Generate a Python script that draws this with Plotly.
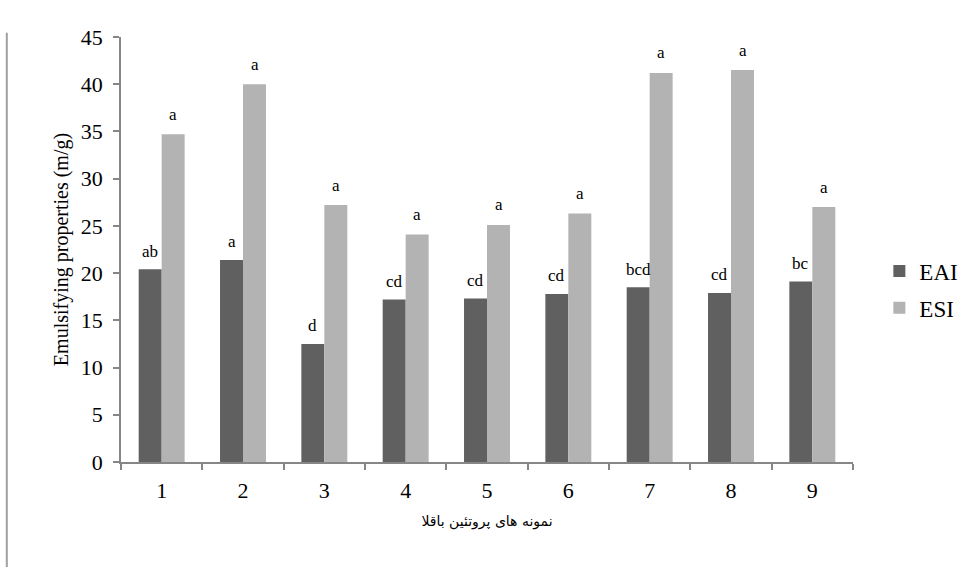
import plotly.graph_objects as go

categories = ["1", "2", "3", "4", "5", "6", "7", "8", "9"]
eai = [20.4, 21.4, 12.5, 17.2, 17.3, 17.8, 18.5, 17.9, 19.1]
esi = [34.7, 40.0, 27.2, 24.1, 25.1, 26.3, 41.2, 41.5, 27.0]
eai_letters = ["ab", "a", "d", "cd", "cd", "cd", "bcd", "cd", "bc"]
esi_letters = ["a", "a", "a", "a", "a", "a", "a", "a", "a"]
y_ticks = [0, 5, 10, 15, 20, 25, 30, 35, 40, 45]

serif = "Liberation Serif, Times New Roman, serif"

fig = go.Figure()
fig.add_trace(go.Bar(x=categories, y=eai, name="EAI", marker=dict(color="#606060", line=dict(width=0)),
                     legendgroup="g1"))
fig.add_trace(go.Bar(x=categories, y=esi, name="ESI", marker=dict(color="#b3b3b3", line=dict(width=0)),
                     legendgroup="g2"))

annotations = []
for i, (v, t) in enumerate(zip(eai, eai_letters)):
    annotations.append(dict(x=i, y=v, xref="x", yref="y", text=t, showarrow=False,
                            xshift=-11.5, yshift=18, yanchor="middle",
                            font=dict(family=serif, size=17, color="#000")))
for i, (v, t) in enumerate(zip(esi, esi_letters)):
    annotations.append(dict(x=i, y=v, xref="x", yref="y", text=t, showarrow=False,
                            xshift=11.5, yshift=20, yanchor="middle",
                            font=dict(family=serif, size=17, color="#000")))

fig.update_layout(
    width=968, height=567,
    margin=dict(l=121, r=115, t=37, b=105, autoexpand=False),
    paper_bgcolor="white", plot_bgcolor="white",
    barmode="group", bargap=0.435, bargroupgap=0,
    font=dict(family=serif, color="#000"),
    showlegend=True,
    legend=dict(x=1.036, y=0.50, xanchor="left", yanchor="top",
                font=dict(family=serif, size=23, color="#000"),
                traceorder="grouped", tracegroupgap=4, itemwidth=30),
    annotations=annotations,
    xaxis=dict(type="category", range=[-0.5, 8.5], showline=True, linecolor="#868686", linewidth=1.5,
               ticks="outside", tickson="boundaries", ticklen=6, tickcolor="#868686", tickwidth=1.5,
               ticklabelstandoff=8,
               tickfont=dict(family=serif, size=22, color="#000"),
               showgrid=False, zeroline=False,
               title=dict(text="نمونه های پروتئین باقلا", font=dict(family="DejaVu Sans", size=14, color="#000"), standoff=14)),
    yaxis=dict(range=[0, 45], tickvals=y_ticks, showline=True, linecolor="#868686", linewidth=1.5,
               ticks="outside", ticklen=6, tickcolor="#868686", tickwidth=1.5,
               ticklabelstandoff=6,
               tickfont=dict(family=serif, size=22, color="#000"),
               showgrid=False, zeroline=False,
               title=dict(text="Emulsifying properties (m/g)", font=dict(family=serif, size=20, color="#000"), standoff=7)),
    shapes=[dict(type="line", xref="paper", yref="paper", x0=-0.156, x1=-0.156, y0=1.01, y1=-0.3,
                 line=dict(color="#a0a0a0", width=2))],
)

fig.write_html("out.html")
